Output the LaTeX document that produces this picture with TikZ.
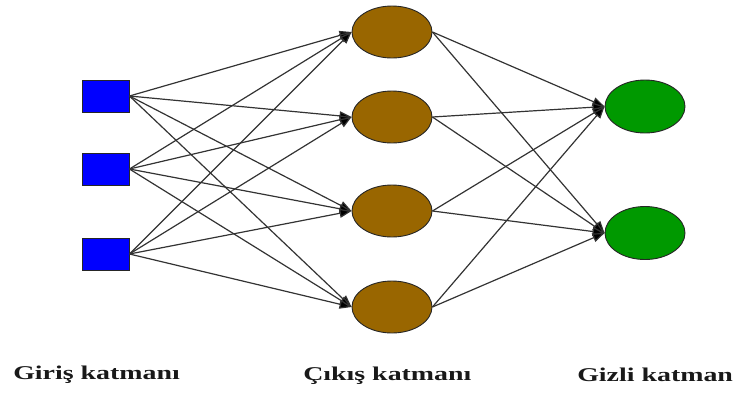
\documentclass[tikz,border=0pt]{standalone}
\usepackage{fontspec}
\setmainfont{Liberation Serif}
\newfontfamily\capfont{Liberation Serif Bold}
\usetikzlibrary{arrows.meta,shapes.geometric}
\definecolor{inblue}{RGB}{0,0,255}
\definecolor{midbrown}{RGB}{153,102,0}
\definecolor{outgreen}{RGB}{0,153,0}
\tikzset{
  inbox/.style={draw=black!85, fill=inblue, minimum width=47pt, minimum height=32pt, inner sep=0pt, line width=0.9pt},
  brownnode/.style={ellipse, draw=black!85, fill=midbrown, minimum width=80pt, minimum height=52pt, inner sep=0pt, line width=0.9pt},
  greennode/.style={ellipse, draw=black!85, fill=outgreen, minimum width=80pt, minimum height=53pt, inner sep=0pt, line width=0.9pt},
  link/.style={draw=black!80, line width=1.2pt, -{Triangle[length=12pt,width=9pt,fill=black]}},
  caption/.style={font=\capfont\fontsize{19.5}{22}\selectfont, text=black!90, anchor=base west, inner sep=0pt, xscale=1.43, transform shape}
}
\begin{document}
\begin{tikzpicture}[x=1pt,y=-1pt]
\useasboundingbox (0,0) rectangle (734,392);
% input squares
\node[inbox] (i1) at (105.5,96) {};
\node[inbox] (i2) at (105.5,169) {};
\node[inbox] (i3) at (105.5,254) {};
% middle layer
\node[brownnode] (m1) at (392,32) {};
\node[brownnode] (m2) at (392,117) {};
\node[brownnode] (m3) at (392,211) {};
\node[brownnode] (m4) at (392,307) {};
% last layer
\node[greennode] (o1) at (645,106.5) {};
\node[greennode] (o2) at (645,233) {};
% connections
\foreach \a in {i1,i2,i3}
  \foreach \b in {m1,m2,m3,m4}
    \draw[link] (\a.east) -- (\b.west);
\foreach \a in {m1,m2,m3,m4}
  \foreach \b in {o1,o2}
    \draw[link] (\a.east) -- (\b.west);
% captions
\node[caption] (c1) at (13,379) {Giriş katmanı};
\node[caption] (c2) at (303,380) {Çıkış katmanı};
\node[caption] (c3) at (577,381) {Gizli katman};
\end{tikzpicture}
\end{document}
